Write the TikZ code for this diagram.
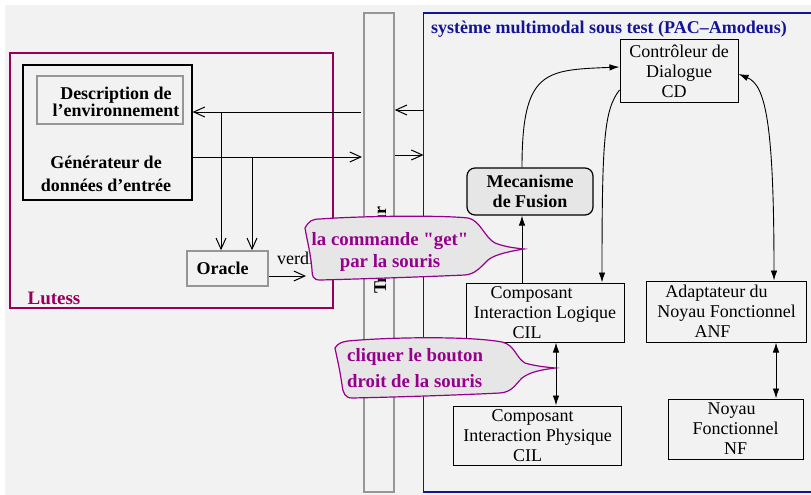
\documentclass[tikz,border=0pt]{standalone}
\usepackage{fontspec}
\setmainfont{Liberation Serif}[Ligatures=TeXOff]
\usetikzlibrary{arrows.meta}
\definecolor{bgc}{RGB}{242,242,242}
\definecolor{lut}{RGB}{150,0,90}
\definecolor{pur}{RGB}{150,0,140}
\definecolor{nav}{RGB}{20,20,150}
\definecolor{cfill}{RGB}{230,230,230}
\definecolor{gbord}{RGB}{150,150,150}
\newcommand\fsReg{\fontsize{18}{20}\selectfont}
\newcommand\fsBold{\fontsize{18}{20}\selectfont\bfseries}
\tikzset{
  blackbox/.style={draw=black, line width=1pt, inner sep=0pt, align=center, font=\fsReg},
  greybox/.style={draw=gbord, line width=1.5pt, inner sep=0pt, align=center, font=\fsBold},
  openarrow/.style={line width=1pt, -{Straight Barb[length=11pt,width=10pt,line width=1pt]}},
  fillarrow/.style={line width=0.9pt, -{Latex[length=10pt,width=6.5pt]}},
  dblarrow/.style={line width=0.9pt, {Latex[length=10pt,width=6.5pt]}-{Latex[length=10pt,width=6.5pt]}},
  callout/.style={draw=pur, line width=1.2pt, fill=cfill},
  ctext/.style={text=pur, inner sep=0pt, font=\fontsize{18.8}{22}\selectfont\bfseries},
}
\begin{document}
\begin{tikzpicture}[x=1pt,y=-1pt]
\useasboundingbox (0,0) rectangle (811,495);
\fill[bgc] (5,5) rectangle (811,495);

% Lutess
\draw[lut, line width=1.2pt] (10,53) rectangle (333,308);
\node[text=lut, inner sep=0pt, font=\fontsize{19}{20}\selectfont\bfseries] (lutlabel) at (54,298) {Lutess};

% generator
\node[draw=black, line width=1.2pt, minimum width=169pt, minimum height=135pt, inner sep=0pt] (gen) at (107.5,132.5) {};
\node[greybox, minimum width=146pt, minimum height=48pt] (desc) at (110,100) {};
\node[inner sep=0pt, align=center, font=\fontsize{18}{17}\selectfont\bfseries] (desctext) at (116,101.5) {Description de\\l’environnement};
\node[inner sep=0pt, align=center, font=\fontsize{18}{23}\selectfont\bfseries] (gentext) at (106,173.5) {Générateur de\\données d’entrée};

% oracle
\node[greybox, minimum width=81pt, minimum height=35pt] (oracle) at (227.5,268.5) {\hspace*{-10pt}Oracle};

% lines Lutess <-> Traducteur
\coordinate (tl1) at (361,112);
\coordinate (tl2) at (362,157);
\coordinate (j1) at (221,112);
\coordinate (j2) at (252,157);
\draw[openarrow] (tl1) -- (gen.east |- tl1);
\draw[openarrow] (j1) -- (j1 |- oracle.north);
\draw[openarrow] (gen.east |- tl2) -- (tl2);
\draw[openarrow] (j2) -- (j2 |- oracle.north);

% verdict
\node[anchor=west, inner sep=0pt, font=\fsReg] (verd) at (277,258) {verdict};
\coordinate (vtip) at (306,276);
\draw[openarrow] (oracle.east |- vtip) -- (vtip);

% Traducteur
\node[draw=gbord, line width=1.5pt, fill=bgc, minimum width=30pt, minimum height=479pt, inner sep=0pt] (trad) at (379,252.5) {};
\node[rotate=90, inner sep=0pt, font=\fsBold] (tradtext) at (380,250) {Traducteur};

% system box
\draw[nav, line width=1.2pt] (815,13) -- (423.5,13) -- (423.5,492) -- (815,492);
\node[anchor=west, text=nav, inner sep=0pt, font=\fsBold] (title) at (431,29) {système multimodal sous test (PAC–Amodeus)};

\coordinate (s1) at (423.5,110);
\coordinate (s2) at (423.5,155);
\draw[openarrow] (s1) -- (s1 -| trad.east);
\draw[openarrow] (s2 -| trad.east) -- (s2);

% components
\node[blackbox, minimum width=118pt, minimum height=62pt] (cd) at (679,71) {Contrôleur de\\Dialogue\\\hspace*{-10pt}CD};
\node[blackbox, fill=cfill, rounded corners=8pt, line width=1.2pt, minimum width=126pt, minimum height=47pt, font=\fsBold] (mec) at (530,191.5) {Mecanisme\\de Fusion};
\node[blackbox, minimum width=158pt, minimum height=59pt] (cil) at (545,312.5) {\hspace*{-27pt}Composant\\Interaction Logique\\\hspace*{-36pt}CIL};
\node[blackbox, minimum width=160pt, minimum height=61pt] (anf) at (726.5,311.5) {\hspace*{-20pt}Adaptateur du\\Noyau Fonctionnel\\\hspace*{-28pt}ANF};
\node[blackbox, minimum width=168pt, minimum height=59pt] (cip) at (537.5,435.5) {\hspace*{-10pt}Composant\\Interaction Physique\\\hspace*{-20pt}CIL};
\node[blackbox, minimum width=135pt, minimum height=60pt] (nf) at (735.5,429) {\hspace*{-8pt}Noyau\\Fonctionnel\\NF};

% connectors
\coordinate (xa) at (522,0);
\coordinate (xb) at (602,0);
\coordinate (xc) at (774,0);
\coordinate (xd) at (556,0);
\coordinate (xe) at (776,0);
\draw[fillarrow] (cil.north -| xa) -- (mec.south -| xa);
\draw[fillarrow] (mec.north -| xa) .. controls (522,70) and (545,70) .. ([yshift=4pt]cd.west);
\draw[fillarrow] ([yshift=-19pt]cd.west) .. controls (604,110) and (602,140) .. (cil.north -| xb);
\draw[dblarrow] ([yshift=-3pt]cd.east) .. controls (765,85) and (774,120) .. (anf.north -| xc);
\draw[dblarrow] (cil.south -| xd) -- (cip.north -| xd);
\draw[dblarrow] (anf.south -| xe) -- (nf.north -| xe);

% callout 1
\draw[callout] (305,228) .. controls (309,221) and (312,219) .. (320,219)
  .. controls (360,216) and (440,215) .. (468,218)
  .. controls (480,220) and (485,238) .. (495,243)
  .. controls (505,247) and (515,248) .. (524,249)
  .. controls (512,251) and (495,254) .. (488,260)
  .. controls (480,268) and (475,274) .. (465,275)
  .. controls (420,277) and (360,279) .. (320,280)
  .. controls (313,280) and (312,276) .. (312,270)
  .. controls (311,255) and (307,240) .. (305,228) -- cycle;
\node[ctext, align=center] (c1text) at (390,252) {la commande "get"\\par la souris};

% callout 2
\draw[callout] (335,348) .. controls (338,343) and (342,342) .. (348,341)
  .. controls (390,337) and (470,336) .. (502,342)
  .. controls (515,345) and (516,358) .. (525,363)
  .. controls (535,366) and (545,367) .. (555,368)
  .. controls (540,370) and (530,372) .. (522,378)
  .. controls (515,385) and (512,392) .. (500,393)
  .. controls (460,395) and (400,397) .. (352,398)
  .. controls (345,398) and (343,393) .. (342,385)
  .. controls (340,370) and (337,358) .. (335,348) -- cycle;
\node[ctext, align=left, anchor=west, font=\fontsize{18.8}{26}\selectfont\bfseries] (c2text) at (347,368) {cliquer le bouton\\droit de la souris};
\end{tikzpicture}
\end{document}
